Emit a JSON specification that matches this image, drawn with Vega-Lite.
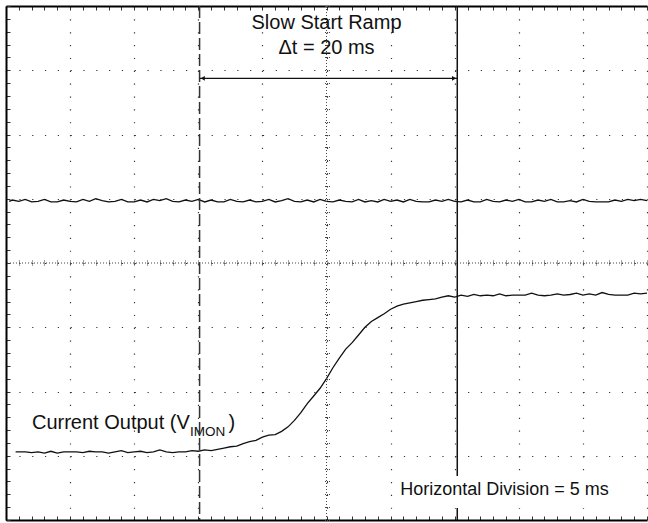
{
  "$schema": "https://vega.github.io/schema/vega-lite/v6.json",
  "width": 641,
  "height": 514,
  "autosize": {"type": "none"},
  "padding": {"left": 6, "top": 6, "right": 1, "bottom": 3},
  "background": "white",
  "config": {"view": {"stroke": null}, "font": "Liberation Sans"},
  "datasets": {
    "upper": [
      {"t":0.05,"v":4.96},{"t":0.1,"v":4.98},{"t":0.2,"v":4.96},{"t":0.3,"v":4.99},{"t":0.4,"v":4.95},{"t":0.5,"v":4.96},{"t":0.6,"v":4.99},{"t":0.7,"v":4.95},{"t":0.8,"v":4.95},{"t":0.9,"v":4.98},
      {"t":1.0,"v":4.96},{"t":1.1,"v":4.95},{"t":1.2,"v":4.99},{"t":1.3,"v":4.96},{"t":1.4,"v":5.0},{"t":1.5,"v":4.97},{"t":1.6,"v":4.95},{"t":1.7,"v":4.96},{"t":1.8,"v":4.99},{"t":1.9,"v":4.95},
      {"t":2.0,"v":4.95},{"t":2.1,"v":4.98},{"t":2.2,"v":4.95},{"t":2.3,"v":4.99},{"t":2.4,"v":4.97},{"t":2.5,"v":5.0},{"t":2.6,"v":4.96},{"t":2.7,"v":4.95},{"t":2.8,"v":4.98},{"t":2.9,"v":4.96},
      {"t":3.0,"v":4.99},{"t":3.1,"v":4.95},{"t":3.2,"v":4.98},{"t":3.3,"v":4.95},{"t":3.4,"v":4.95},{"t":3.5,"v":4.99},{"t":3.6,"v":4.96},{"t":3.7,"v":4.95},{"t":3.8,"v":4.98},{"t":3.9,"v":4.95},
      {"t":4.0,"v":4.96},{"t":4.1,"v":4.99},{"t":4.2,"v":4.95},{"t":4.3,"v":4.97},{"t":4.4,"v":5.0},{"t":4.5,"v":4.96},{"t":4.6,"v":4.95},{"t":4.7,"v":4.98},{"t":4.8,"v":4.95},{"t":4.9,"v":4.99},
      {"t":5.0,"v":4.96},{"t":5.1,"v":4.95},{"t":5.2,"v":4.98},{"t":5.3,"v":4.96},{"t":5.4,"v":4.95},{"t":5.5,"v":4.99},{"t":5.6,"v":4.95},{"t":5.7,"v":4.97},{"t":5.8,"v":4.95},{"t":5.9,"v":4.99},
      {"t":6.0,"v":4.96},{"t":6.1,"v":4.98},{"t":6.2,"v":4.95},{"t":6.3,"v":4.99},{"t":6.4,"v":4.96},{"t":6.5,"v":4.95},{"t":6.6,"v":4.95},{"t":6.7,"v":4.98},{"t":6.8,"v":4.96},{"t":6.9,"v":4.99},
      {"t":7.0,"v":4.96},{"t":7.1,"v":4.95},{"t":7.2,"v":4.98},{"t":7.3,"v":4.95},{"t":7.4,"v":4.95},{"t":7.5,"v":4.99},{"t":7.6,"v":4.96},{"t":7.7,"v":4.95},{"t":7.8,"v":4.98},{"t":7.9,"v":4.96},
      {"t":8.0,"v":4.99},{"t":8.1,"v":4.95},{"t":8.2,"v":4.95},{"t":8.3,"v":4.98},{"t":8.4,"v":4.96},{"t":8.5,"v":4.99},{"t":8.6,"v":4.95},{"t":8.7,"v":4.95},{"t":8.8,"v":4.97},{"t":8.9,"v":4.95},
      {"t":9.0,"v":4.99},{"t":9.1,"v":4.96},{"t":9.2,"v":4.95},{"t":9.3,"v":4.95},{"t":9.4,"v":4.95},{"t":9.5,"v":4.98},{"t":9.6,"v":4.96},{"t":9.7,"v":4.99},{"t":9.8,"v":4.97},{"t":9.9,"v":4.99},{"t":10.0,"v":4.97}
    ],
    "lower": [
      {"t":0.15,"v":1.06},{"t":0.2,"v":1.06},{"t":0.3,"v":1.06},{"t":0.4,"v":1.05},{"t":0.5,"v":1.06},{"t":0.6,"v":1.04},{"t":0.7,"v":1.07},{"t":0.8,"v":1.04},{"t":0.9,"v":1.06},
      {"t":1.0,"v":1.06},{"t":1.1,"v":1.06},{"t":1.2,"v":1.05},{"t":1.3,"v":1.07},{"t":1.4,"v":1.06},{"t":1.5,"v":1.06},{"t":1.6,"v":1.04},{"t":1.7,"v":1.06},{"t":1.8,"v":1.08},{"t":1.9,"v":1.05},
      {"t":2.0,"v":1.06},{"t":2.1,"v":1.07},{"t":2.2,"v":1.05},{"t":2.3,"v":1.06},{"t":2.4,"v":1.09},{"t":2.5,"v":1.06},{"t":2.6,"v":1.05},{"t":2.7,"v":1.06},{"t":2.8,"v":1.06},{"t":2.9,"v":1.08},
      {"t":3.0,"v":1.07},{"t":3.1,"v":1.09},{"t":3.2,"v":1.08},{"t":3.3,"v":1.1},{"t":3.4,"v":1.12},{"t":3.5,"v":1.14},{"t":3.6,"v":1.15},{"t":3.7,"v":1.19},{"t":3.8,"v":1.22},{"t":3.9,"v":1.24},
      {"t":4.0,"v":1.29},{"t":4.1,"v":1.32},{"t":4.2,"v":1.33},{"t":4.3,"v":1.38},{"t":4.4,"v":1.45},{"t":4.5,"v":1.55},{"t":4.6,"v":1.67},{"t":4.7,"v":1.81},{"t":4.8,"v":1.93},{"t":4.9,"v":2.05},
      {"t":5.0,"v":2.2},{"t":5.1,"v":2.37},{"t":5.2,"v":2.52},{"t":5.3,"v":2.66},{"t":5.4,"v":2.76},{"t":5.5,"v":2.88},{"t":5.6,"v":3.0},{"t":5.7,"v":3.09},{"t":5.8,"v":3.15},{"t":5.9,"v":3.21},
      {"t":6.0,"v":3.28},{"t":6.1,"v":3.33},{"t":6.2,"v":3.36},{"t":6.3,"v":3.38},{"t":6.4,"v":3.4},{"t":6.5,"v":3.42},{"t":6.6,"v":3.43},{"t":6.7,"v":3.44},{"t":6.8,"v":3.47},{"t":6.9,"v":3.49},
      {"t":7.0,"v":3.47},{"t":7.1,"v":3.5},{"t":7.2,"v":3.48},{"t":7.3,"v":3.51},{"t":7.4,"v":3.49},{"t":7.5,"v":3.5},{"t":7.6,"v":3.49},{"t":7.7,"v":3.52},{"t":7.8,"v":3.49},{"t":7.9,"v":3.5},
      {"t":8.0,"v":3.5},{"t":8.1,"v":3.5},{"t":8.2,"v":3.53},{"t":8.3,"v":3.5},{"t":8.4,"v":3.49},{"t":8.5,"v":3.5},{"t":8.6,"v":3.52},{"t":8.7,"v":3.5},{"t":8.8,"v":3.51},{"t":8.9,"v":3.53},
      {"t":9.0,"v":3.5},{"t":9.1,"v":3.52},{"t":9.2,"v":3.5},{"t":9.3,"v":3.54},{"t":9.4,"v":3.51},{"t":9.5,"v":3.5},{"t":9.6,"v":3.5},{"t":9.7,"v":3.5},{"t":9.8,"v":3.53},{"t":9.9,"v":3.52},{"t":10.0,"v":3.53}
    ]
  },
  "resolve": {"axis": {"x": "independent", "y": "independent"}},
  "layer": [
    {
      "data": {"name": "upper"},
      "mark": {"type": "line", "color": "#111", "strokeWidth": 1.3},
      "encoding": {
        "x": {"field": "t", "type": "quantitative", "scale": {"domain": [0, 10], "nice": false, "zero": false},
          "axis": {"orient": "bottom", "values": [0,1,2,3,4,5,6,7,8,9,10], "grid": true, "gridDash": [1.2, 11.65], "gridColor": "#333", "gridWidth": 1.2, "domain": false, "ticks": false, "labels": false, "title": null}},
        "y": {"field": "v", "type": "quantitative", "scale": {"domain": [0, 8], "nice": false, "zero": false},
          "axis": {"orient": "left", "values": [0,1,2,3,4,5,6,7,8], "grid": true, "gridDash": [1.2, 11.62], "gridColor": "#333", "gridWidth": 1.2, "domain": false, "ticks": false, "labels": false, "title": null}}
      }
    },
    {
      "data": {"name": "lower"},
      "mark": {"type": "line", "color": "#111", "strokeWidth": 1.3},
      "encoding": {
        "x": {"field": "t", "type": "quantitative", "scale": {"domain": [0, 10], "nice": false, "zero": false},
          "axis": {"orient": "bottom", "tickCount": 50, "tickSize": -4, "tickColor": "#333", "tickWidth": 1, "domain": true, "domainColor": "#000", "domainWidth": 2, "labels": false, "grid": false, "title": null}},
        "y": {"field": "v", "type": "quantitative", "scale": {"domain": [0, 8], "nice": false, "zero": false},
          "axis": {"orient": "left", "tickCount": 40, "tickSize": -4, "tickColor": "#333", "tickWidth": 1, "domain": true, "domainColor": "#000", "domainWidth": 2, "labels": false, "grid": false, "title": null}}
      }
    },
    {
      "data": {"values": [{"t": 3.02}]},
      "mark": {"type": "rule", "color": "#333", "strokeWidth": 1.5, "strokeDash": [12, 4]},
      "encoding": {
        "x": {"field": "t", "type": "quantitative", "scale": {"domain": [0, 10], "nice": false, "zero": false},
          "axis": {"orient": "top", "tickCount": 50, "tickSize": -4, "tickColor": "#333", "tickWidth": 1, "domain": true, "domainColor": "#000", "domainWidth": 2, "labels": false, "grid": false, "title": null}}
      }
    },
    {
      "data": {"values": [{"t": 5}]},
      "mark": {"type": "rule", "color": "#444", "strokeWidth": 1, "strokeDash": [1, 2]},
      "encoding": {
        "x": {"field": "t", "type": "quantitative", "scale": {"domain": [0, 10], "nice": false, "zero": false},
          "axis": {"orient": "bottom", "offset": -260, "tickCount": 50, "tickSize": 6, "tickColor": "#444", "tickWidth": 1, "tickDash": [1, 1], "domain": false, "labels": false, "grid": false, "title": null}}
      }
    },
    {
      "data": {"values": [{"v": 4}]},
      "mark": {"type": "rule", "color": "#444", "strokeWidth": 1, "strokeDash": [1, 2]},
      "encoding": {
        "y": {"field": "v", "type": "quantitative", "scale": {"domain": [0, 8], "nice": false, "zero": false},
          "axis": {"orient": "left", "offset": -323.5, "tickCount": 40, "tickSize": 6, "tickColor": "#444", "tickWidth": 1, "tickDash": [1, 1], "domain": false, "labels": false, "grid": false, "title": null}}
      }
    },
    {
      "data": {"values": [{"t": 7.04}]},
      "mark": {"type": "rule", "color": "#111", "strokeWidth": 1.5},
      "encoding": {
        "x": {"field": "t", "type": "quantitative", "scale": {"domain": [0, 10], "nice": false, "zero": false}, "axis": null}
      }
    },
    {
      "data": {"values": [{"t": 3.02, "t2": 7.04, "v": 6.875}]},
      "mark": {"type": "rule", "color": "#111", "strokeWidth": 1.2},
      "encoding": {
        "x": {"field": "t", "type": "quantitative", "scale": {"domain": [0, 10], "nice": false, "zero": false}, "axis": null},
        "x2": {"field": "t2"},
        "y": {"field": "v", "type": "quantitative", "scale": {"domain": [0, 8], "nice": false, "zero": false}, "axis": null}
      }
    },
    {
      "data": {"values": [{"t": 3.07, "v": 6.875}]},
      "mark": {"type": "point", "shape": "triangle-left", "filled": true, "color": "#111", "size": 22, "opacity": 1},
      "encoding": {
        "x": {"field": "t", "type": "quantitative", "scale": {"domain": [0, 10], "nice": false, "zero": false}, "axis": null},
        "y": {"field": "v", "type": "quantitative", "scale": {"domain": [0, 8], "nice": false, "zero": false}, "axis": null}
      }
    },
    {
      "data": {"values": [{"t": 6.99, "v": 6.875}]},
      "mark": {"type": "point", "shape": "triangle-right", "filled": true, "color": "#111", "size": 22, "opacity": 1},
      "encoding": {
        "x": {"field": "t", "type": "quantitative", "scale": {"domain": [0, 10], "nice": false, "zero": false}, "axis": null},
        "y": {"field": "v", "type": "quantitative", "scale": {"domain": [0, 8], "nice": false, "zero": false}, "axis": null}
      }
    },
    {
      "data": {"values": [{"t": 6.08, "t2": 9.45, "v": 0.685, "v2": 0.187}]},
      "mark": {"type": "rect", "color": "white", "opacity": 1},
      "encoding": {
        "x": {"field": "t", "type": "quantitative", "scale": {"domain": [0, 10], "nice": false, "zero": false}, "axis": null},
        "x2": {"field": "t2"},
        "y": {"field": "v", "type": "quantitative", "scale": {"domain": [0, 8], "nice": false, "zero": false}, "axis": null},
        "y2": {"field": "v2"}
      }
    },
    {
      "data": {"values": [{"t": 5.0, "v": 7.637, "label": "Slow Start Ramp"}, {"t": 5.0, "v": 7.253, "label": "Δt = 20 ms"}]},
      "mark": {"type": "text", "font": "Liberation Sans", "fontSize": 20, "align": "center", "baseline": "alphabetic", "color": "#111"},
      "encoding": {
        "x": {"field": "t", "type": "quantitative", "scale": {"domain": [0, 10], "nice": false, "zero": false}, "axis": null},
        "y": {"field": "v", "type": "quantitative", "scale": {"domain": [0, 8], "nice": false, "zero": false}, "axis": null},
        "text": {"field": "label"}
      }
    },
    {
      "data": {"values": [{"t": 0.405, "v": 1.412, "label": "Current Output (V"}, {"t": 3.47, "v": 1.412, "label": ")"}]},
      "mark": {"type": "text", "font": "Liberation Sans", "fontSize": 20, "align": "left", "baseline": "alphabetic", "color": "#111"},
      "encoding": {
        "x": {"field": "t", "type": "quantitative", "scale": {"domain": [0, 10], "nice": false, "zero": false}, "axis": null},
        "y": {"field": "v", "type": "quantitative", "scale": {"domain": [0, 8], "nice": false, "zero": false}, "axis": null},
        "text": {"field": "label"}
      }
    },
    {
      "data": {"values": [{"t": 2.87, "v": 1.3, "label": "IMON"}]},
      "mark": {"type": "text", "font": "Liberation Sans", "fontSize": 13.5, "align": "left", "baseline": "alphabetic", "color": "#111"},
      "encoding": {
        "x": {"field": "t", "type": "quantitative", "scale": {"domain": [0, 10], "nice": false, "zero": false}, "axis": null},
        "y": {"field": "v", "type": "quantitative", "scale": {"domain": [0, 8], "nice": false, "zero": false}, "axis": null},
        "text": {"field": "label"}
      }
    },
    {
      "data": {"values": [{"t": 6.15, "v": 0.389, "label": "Horizontal Division = 5 ms"}]},
      "mark": {"type": "text", "font": "Liberation Sans", "fontSize": 18, "align": "left", "baseline": "alphabetic", "color": "#111"},
      "encoding": {
        "x": {"field": "t", "type": "quantitative", "scale": {"domain": [0, 10], "nice": false, "zero": false}, "axis": null},
        "y": {"field": "v", "type": "quantitative", "scale": {"domain": [0, 8], "nice": false, "zero": false}, "axis": null},
        "text": {"field": "label"}
      }
    }
  ]
}
